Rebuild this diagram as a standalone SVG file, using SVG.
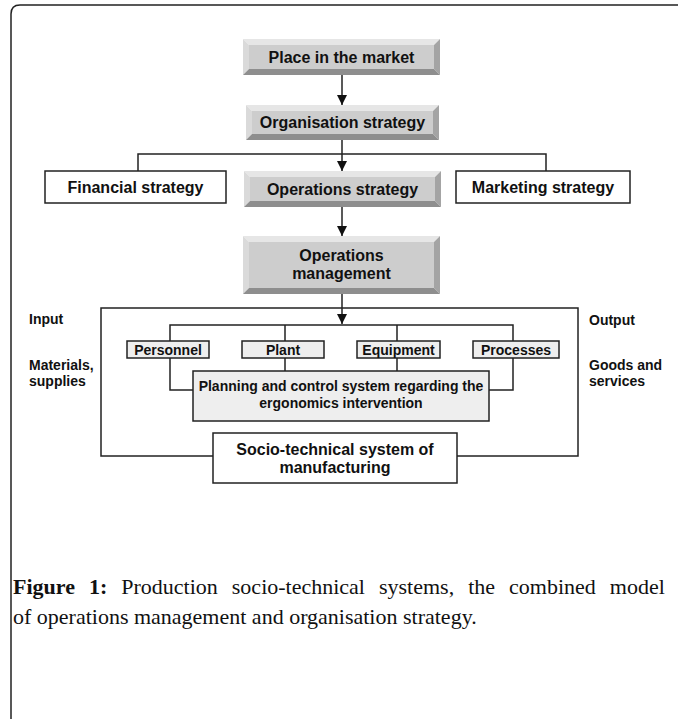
<svg xmlns="http://www.w3.org/2000/svg" width="678" height="719" viewBox="0 0 678 719">
<style>
.t{font-family:"Liberation Sans",Arial,sans-serif;font-weight:bold;fill:#111;}
.big{font-size:16px;text-anchor:middle;}
.sm{font-size:14px;text-anchor:middle;}
.side{font-size:14px;}
.ln{fill:none;stroke:#222;stroke-width:1.5;}
.box{fill:#fff;stroke:#222;stroke-width:1.5;}
.lbox{fill:#eeeeee;stroke:#222;stroke-width:1.5;}
.bt{fill:#e6e6e6;}.bl{fill:#dadada;}.br{fill:#a4a4a4;}.bb{fill:#8e8e8e;}.bf{fill:#cdcdcd;}
.cap{font-family:"Liberation Serif","Times New Roman",serif;font-size:22px;fill:#111;}
</style>
<defs>
<marker id="arr" markerUnits="userSpaceOnUse" markerWidth="10" markerHeight="10" refX="10" refY="5" orient="auto">
<path d="M0,0 L10,5 L0,10 z" fill="#111"/>
</marker>
</defs>
<rect width="678" height="719" fill="#fff"/>
<path class="ln" d="M11,719 V14 Q11,5 20,5 H678" stroke-width="1.6"/>

<g id="connectors">
<line class="ln" x1="342" y1="75" x2="342" y2="105" marker-end="url(#arr)"/>
<line class="ln" x1="342" y1="140" x2="342" y2="171" marker-end="url(#arr)"/>
<path class="ln" d="M138,171 V154 H546 V171"/>
<line class="ln" x1="342" y1="207" x2="342" y2="236" marker-end="url(#arr)"/>
<line class="ln" x1="342" y1="294" x2="342" y2="324" marker-end="url(#arr)"/>
<rect class="ln" x="101" y="308" width="477" height="148"/>
<path class="ln" d="M170,341 V325 H513 V341 M285,325 V341 M397,325 V341"/>
<path class="ln" d="M170,358 V390 H193 M285,358 V371 M397,358 V371 M513,358 V390 H489"/>
</g>

<g id="place">
<polygon class="bt" points="243,39 440,39 434,45 249,45"/>
<polygon class="bl" points="243,39 249,45 249,69 243,75"/>
<polygon class="br" points="440,39 440,75 434,69 434,45"/>
<polygon class="bb" points="243,75 249,69 434,69 440,75"/>
<rect class="bf" x="249" y="45" width="185" height="24"/>
<text class="t big" x="341.5" y="62.5">Place in the market</text>
</g>

<g id="organisation">
<polygon class="bt" points="246,105 439,105 433,111 252,111"/>
<polygon class="bl" points="246,105 252,111 252,134 246,140"/>
<polygon class="br" points="439,105 439,140 433,134 433,111"/>
<polygon class="bb" points="246,140 252,134 433,134 439,140"/>
<rect class="bf" x="252" y="111" width="181" height="23"/>
<text class="t big" x="342.5" y="128">Organisation strategy</text>
</g>

<g id="financial">
<rect class="box" x="45" y="171" width="181" height="32"/>
<text class="t big" x="135.5" y="193">Financial strategy</text>
</g>

<g id="operations-strategy">
<polygon class="bt" points="244,171 441,171 435,177 250,177"/>
<polygon class="bl" points="244,171 250,177 250,201 244,207"/>
<polygon class="br" points="441,171 441,207 435,201 435,177"/>
<polygon class="bb" points="244,207 250,201 435,201 441,207"/>
<rect class="bf" x="250" y="177" width="185" height="24"/>
<text class="t big" x="342.5" y="194.5">Operations strategy</text>
</g>

<g id="marketing">
<rect class="box" x="456" y="171" width="174" height="32"/>
<text class="t big" x="543" y="193">Marketing strategy</text>
</g>

<g id="operations-management">
<polygon class="bt" points="243,236 440,236 434,242 249,242"/>
<polygon class="bl" points="243,236 249,242 249,288 243,294"/>
<polygon class="br" points="440,236 440,294 434,288 434,242"/>
<polygon class="bb" points="243,294 249,288 434,288 440,294"/>
<rect class="bf" x="249" y="242" width="185" height="46"/>
<text class="t big" x="341.5" y="261">Operations</text>
<text class="t big" x="341.5" y="279">management</text>
</g>

<g id="input">
<text class="t side" x="29" y="324">Input</text>
<text class="t side" x="29" y="370">Materials,</text>
<text class="t side" x="29" y="386">supplies</text>
</g>

<g id="output">
<text class="t side" x="589" y="325">Output</text>
<text class="t side" x="589" y="370">Goods and</text>
<text class="t side" x="589" y="386">services</text>
</g>

<g id="personnel">
<rect class="lbox" x="127" y="341" width="82" height="17"/>
<text class="t sm" x="168" y="354.5">Personnel</text>
</g>
<g id="plant">
<rect class="lbox" x="242" y="341" width="82" height="17"/>
<text class="t sm" x="283" y="354.5">Plant</text>
</g>
<g id="equipment">
<rect class="lbox" x="357" y="341" width="83" height="17"/>
<text class="t sm" x="398.5" y="354.5">Equipment</text>
</g>
<g id="processes">
<rect class="lbox" x="473" y="341" width="86" height="17"/>
<text class="t sm" x="516" y="354.5">Processes</text>
</g>

<g id="planning">
<rect class="lbox" x="193" y="371" width="296" height="50"/>
<text class="t sm" x="341" y="391">Planning and control system regarding the</text>
<text class="t sm" x="341" y="408">ergonomics intervention</text>
</g>

<g id="socio-technical">
<rect class="box" x="213" y="433" width="244" height="50"/>
<text class="t big" x="335" y="455">Socio-technical system of</text>
<text class="t big" x="335" y="473">manufacturing</text>
</g>

<g id="caption">
<text class="cap" x="13" y="594" word-spacing="8.5"><tspan font-weight="bold">Figure 1:</tspan> Production socio-technical systems, the combined model</text>
<text class="cap" x="13" y="624">of operations management and organisation strategy.</text>
</g>
</svg>
